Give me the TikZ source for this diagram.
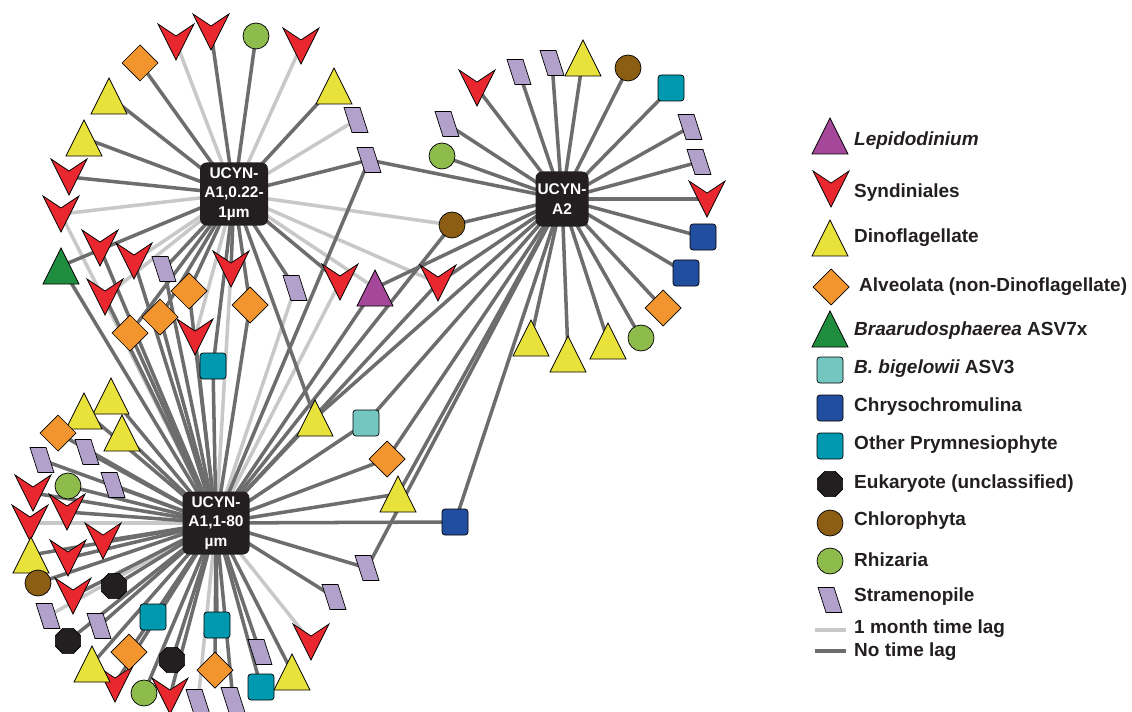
\documentclass[tikz,border=0pt]{standalone}
\usepackage{fontspec}
\setmainfont{Liberation Sans}
\usetikzlibrary{shapes.geometric,backgrounds}

\definecolor{syndred}{RGB}{232,40,46}
\definecolor{dinoyellow}{RGB}{233,226,58}
\definecolor{alvorange}{RGB}{243,149,46}
\definecolor{braagreen}{RGB}{30,142,62}
\definecolor{lepipurple}{RGB}{165,72,154}
\definecolor{bbigteal}{RGB}{116,198,192}
\definecolor{chryblue}{RGB}{34,78,160}
\definecolor{prymteal}{RGB}{0,153,176}
\definecolor{eukblack}{RGB}{35,31,32}
\definecolor{chlobrown}{RGB}{139,94,19}
\definecolor{rhizgreen}{RGB}{141,187,76}
\definecolor{strapurple}{RGB}{177,161,203}
\definecolor{laggrey}{RGB}{200,200,200}
\definecolor{nolaggrey}{RGB}{109,109,109}

\tikzset{
  symbox/.style ={rectangle, minimum size=1.2cm, inner sep=0pt},
  outline/.style={draw=black, line width=0.6pt, line join=miter,
                  shift={(path picture bounding box.center)}},
  trishape/.style={symbox, path picture={\filldraw[outline, fill=#1]
                  (0,-18) -- (18,18) -- (-18,18) -- cycle;}},
  chev/.style   ={symbox, path picture={\filldraw[outline, fill=syndred]
                  (-18,-18) -- (0,-6) -- (18,-18) -- (0,18) -- cycle;}},
  diam/.style   ={symbox, path picture={\filldraw[outline, fill=alvorange]
                  (0,-18) -- (18,0) -- (0,18) -- (-18,0) -- cycle;}},
  para/.style   ={symbox, path picture={\filldraw[outline, fill=strapurple]
                  (-12,-12.5) -- (4,-12.5) -- (12,12.5) -- (-4,12.5) -- cycle;}},
  sq/.style     ={rectangle, rounded corners=0.09cm, minimum size=0.78cm, inner sep=0pt,
                  draw=black, line width=0.6pt, fill=#1},
  rnd/.style    ={circle, minimum size=0.78cm, inner sep=0pt, draw=black, line width=0.6pt, fill=#1},
  oct/.style    ={regular polygon, regular polygon sides=8, minimum size=0.82cm, inner sep=0pt,
                  draw=black, line width=0.6pt, fill=eukblack},
  hub/.style    ={rectangle, rounded corners=0.2cm, fill=eukblack, text=white, align=center,
                  inner sep=0pt, font=\fontsize{13.2}{16.4}\selectfont\bfseries},
  lag/.style    ={draw=laggrey, line width=3pt},
  nolag/.style  ={draw=nolaggrey, line width=3pt},
  legtext/.style={anchor=west, inner sep=0pt, text=eukblack,
                  font=\fontsize{16.2}{19}\selectfont\bfseries},
}

\begin{document}
\begin{tikzpicture}[x=0.03cm,y=-0.03cm]
  \useasboundingbox (0,0) rectangle (1132,712);

  % hubs
  \node[hub, minimum width=2.04cm, minimum height=1.89cm] (ucynA1s) at (234,194) {UCYN-\\A1,0.22-\\1µm};
  \node[hub, minimum width=1.59cm, minimum height=1.65cm] (ucynA2) at (562,199) {UCYN-\\A2};
  \node[hub, minimum width=2.01cm, minimum height=1.89cm] (ucynA1l) at (216,523) {UCYN-\\A1,1-80\\µm};

  % taxa
  \foreach \n/\x/\y in {syn1/176/42, syn2/211/32, syn3/301/46, syn4/69/177, syn5/61/214,
      syn6/100/248, syn7/134/261, syn8/105/297, syn9/231/269, syn10/195/337, syn11/340/282,
      syn12/438/283, syn13/477/88, syn14/707/199, syn15/33/493, syn16/67/512, syn17/30/523,
      syn18/103/541, syn19/68/558, syn20/73/596, syn21/115/684, syn22/170/696, syn23/311/642}
    \node[chev] (\n) at (\x,\y) {};
  \foreach \n/\x/\y in {dino1/109/96, dino2/84/138, dino3/334/86, dino4/583/58, dino5/531/338,
      dino6/568/354, dino7/608/341, dino8/315/418, dino9/398/494, dino10/111/396, dino11/84/411,
      dino12/122/433, dino13/31/555, dino14/92/664, dino15/292/672}
    \node[trishape=dinoyellow] (\n) at (\x,\y) {};
  \foreach \n/\x/\y in {alv1/140/63, alv2/189/291, alv3/160/317, alv4/130/333, alv5/250/305,
      alv6/663/308, alv7/387/459, alv8/58/433, alv9/129/652, alv10/215/670}
    \node[diam] (\n) at (\x,\y) {};
  \node[trishape=braagreen] (braa) at (61,266) {};
  \node[trishape=lepipurple] (lepi) at (375,288) {};
  \node[sq=bbigteal] (bbig) at (366,423) {};
  \foreach \n/\x/\y in {chry1/703/237, chry2/686/273, chry3/455/522}
    \node[sq=chryblue] (\n) at (\x,\y) {};
  \foreach \n/\x/\y in {prym1/671/88, prym2/213/366, prym3/153/617, prym4/217/625, prym5/261/687}
    \node[sq=prymteal] (\n) at (\x,\y) {};
  \foreach \n/\x/\y in {euk1/114/586, euk2/68/641, euk3/172/660}
    \node[oct] (\n) at (\x,\y) {};
  \foreach \n/\x/\y in {chlo1/628/68, chlo2/452/225, chlo3/38/583}
    \node[rnd=chlobrown] (\n) at (\x,\y) {};
  \foreach \n/\x/\y in {rhiz1/256/36, rhiz2/442/156, rhiz3/641/338, rhiz4/68/486, rhiz5/144/693}
    \node[rnd=rhizgreen] (\n) at (\x,\y) {};
  \foreach \n/\x/\y in {stra1/356/120, stra2/369/160, stra3/447/124, stra4/519/72, stra5/552/63,
      stra6/690/127, stra7/699/162, stra8/164/269, stra9/295/288, stra10/42/460, stra11/87/452,
      stra12/113/485, stra13/48/616, stra14/99/626, stra15/198/702, stra16/233/700,
      stra17/260/652, stra18/334/597, stra19/367/568}
    \node[para] (\n) at (\x,\y) {};

  % links
  \begin{pgfonlayer}{background}
    \foreach \a/\b in {ucynA1s/syn1, ucynA1s/syn3, ucynA1s/stra1, ucynA1s/syn5, ucynA1s/syn7,
        ucynA1s/syn8, ucynA1s/syn10, ucynA1s/chlo2, ucynA1s/lepi, ucynA1s/syn12,
        ucynA1l/syn5, ucynA1l/syn9, ucynA1l/stra9, ucynA1l/syn11, ucynA1l/syn17,
        ucynA1l/stra13, ucynA1l/stra15, ucynA1l/syn23}
      \draw[lag] (\a.center) -- (\b.center);
    \foreach \a/\b in {ucynA1s/alv1, ucynA1s/syn2, ucynA1s/rhiz1, ucynA1s/dino3, ucynA1s/stra2,
        ucynA1s/dino1, ucynA1s/dino2, ucynA1s/syn4, ucynA1s/braa, ucynA1s/stra8, ucynA1s/alv2,
        ucynA1s/alv3, ucynA1s/alv4, ucynA1s/syn9, ucynA1s/alv5, ucynA1s/prym2, ucynA1s/stra9,
        ucynA1s/syn11, ucynA1s/dino8}
      \draw[nolag] (\a.center) -- (\b.center);
    \foreach \b in {syn13, stra4, stra5, dino4, chlo1, prym1, stra6, stra7, syn14, chry1, chry2,
        alv6, rhiz3, dino7, dino6, dino5, stra3, rhiz2, chlo2, stra2, lepi, syn12, dino8, bbig,
        alv7, dino9, chry3, stra19}
      \draw[nolag] (ucynA2.center) -- (\b.center);
    \foreach \b in {braa, syn6, syn7, syn8, stra8, alv2, alv3, alv4, alv5, syn10, prym2, stra2,
        chlo2, lepi, syn12, dino8, bbig, alv7, dino9, chry3, stra19, stra18, dino10, dino11,
        dino12, alv8, stra10, stra11, rhiz4, stra12, syn15, syn16, syn18, dino13, syn19, chlo3,
        euk1, syn20, stra14, euk2, prym3, prym4, alv9, euk3, alv10, dino14, syn21, rhiz5, syn22,
        stra16, prym5, stra17, dino15}
      \draw[nolag] (ucynA1l.center) -- (\b.center);
  \end{pgfonlayer}

  % legend
  \node[trishape=lepipurple] (kLepi) at (830,136) {};
  \node[legtext] at (854,141) {\itshape Lepidodinium};
  \node[chev] (kSyn) at (831,189) {};
  \node[legtext] at (854,193) {Syndiniales};
  \node[trishape=dinoyellow] (kDino) at (830,238) {};
  \node[legtext] at (854,238) {Dinoflagellate};
  \node[diam] (kAlv) at (831,287) {};
  \node[legtext] at (859,287) {Alveolata (non-Dinoflagellate)};
  \node[trishape=braagreen] (kBraa) at (830,329) {};
  \node[legtext] at (854,331) {\itshape Braarudosphaerea\upshape\ ASV7x};
  \node[sq=bbigteal] (kBbig) at (830,370) {};
  \node[legtext] at (854,369) {\itshape B. bigelowii\upshape\ ASV3};
  \node[sq=chryblue] (kChry) at (830,408) {};
  \node[legtext] at (854,407) {Chrysochromulina};
  \node[sq=prymteal] (kPrym) at (830,446) {};
  \node[legtext] at (854,445) {Other Prymnesiophyte};
  \node[oct] (kEuk) at (830,484) {};
  \node[legtext] at (854,484) {Eukaryote (unclassified)};
  \node[rnd=chlobrown] (kChlo) at (830,523) {};
  \node[legtext] at (854,521) {Chlorophyta};
  \node[rnd=rhizgreen] (kRhiz) at (830,561) {};
  \node[legtext] at (854,560) {Rhizaria};
  \node[para] (kStra) at (830,600) {};
  \node[legtext] at (854,597) {Stramenopile};
  \coordinate (kLagA) at (815,630);
  \coordinate (kLagB) at (846,630);
  \draw[lag] (kLagA) -- (kLagB);
  \node[legtext] at (854,629) {1 month time lag};
  \coordinate (kNoA) at (815,651);
  \coordinate (kNoB) at (846,651);
  \draw[nolag] (kNoA) -- (kNoB);
  \node[legtext] at (854,652) {No time lag};
\end{tikzpicture}
\end{document}
